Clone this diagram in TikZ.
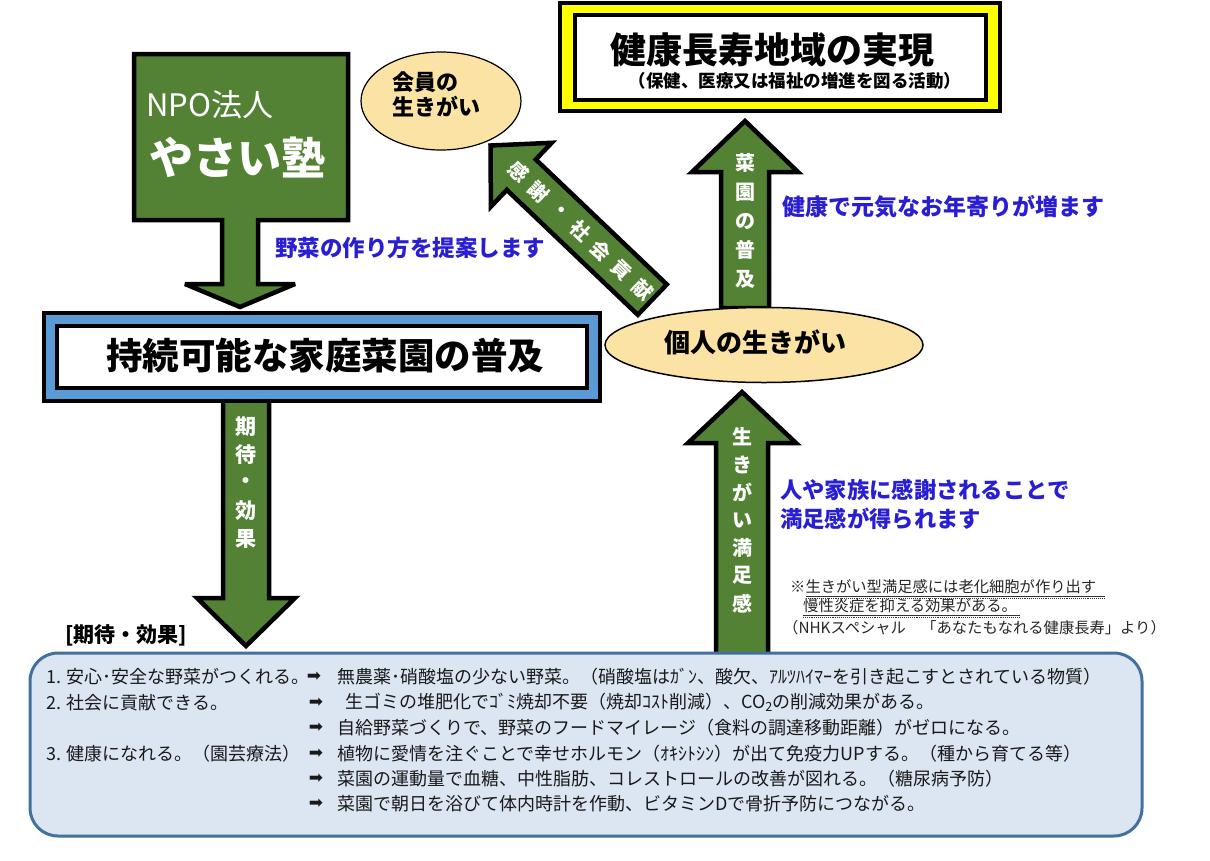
\documentclass[tikz,border=0pt]{standalone}
\usepackage{fontspec}
\setmainfont{Noto Sans CJK JP}
\newfontfamily\dejavu{DejaVu Sans}
\usetikzlibrary{shapes.geometric}
\definecolor{grn}{HTML}{548235}
\definecolor{ylw}{HTML}{FFFF00}
\definecolor{bband}{HTML}{5B9BD5}
\definecolor{ell}{HTML}{FAE3A4}
\definecolor{boxfill}{HTML}{DCE6F2}
\definecolor{boxline}{HTML}{41719C}
\definecolor{btxt}{HTML}{2A1ED2}
\newcommand\fsz[1]{\fontsize{#1}{#1}\selectfont}
\begin{document}
\begin{tikzpicture}[x=1pt,y=-1pt,
  garrow/.style={fill=grn,draw=black,line width=4.5pt,line join=miter,miter limit=4},
  intext/.style={text=white,font=\fsz{20}\bfseries,inner sep=0pt},
  bluetext/.style={text=btxt,font=\fsz{22.5}\bfseries,anchor=west,inner sep=0pt},
  notetext/.style={text=black!85,font=\fsz{15.3},anchor=west,inner sep=0pt},
  listtext/.style={text=black!90,font=\fsz{18},anchor=west,inner sep=0pt},
  listarrow/.style={text=black!90,font=\dejavu\fsz{17},inner sep=0pt},
  bigell/.style={ellipse,fill=ell,draw=black,inner sep=0pt},
]
\useasboundingbox (0,0) rectangle (1210,860);
\fill[white] (0,0) rectangle (1210,860);

% ---- block arrows
\draw[garrow] (745,121) -- (798,172) -- (769,172) -- (769,308) -- (721,308) -- (721,172) -- (692,172) -- cycle;
\draw[garrow] (742,392) -- (796,443) -- (768,443) -- (768,660) -- (716,660) -- (716,443) -- (688,443) -- cycle;
\draw[garrow] (246,646) -- (295,598) -- (269,598) -- (269,400) -- (223,400) -- (223,598) -- (197,598) -- cycle;
\draw[garrow] (490.5,145.5) -- (551.7,142.8) -- (535.8,159.5) -- (666.8,284.4) -- (637.8,314.8) -- (506.8,189.9) -- (490.9,206.6) -- cycle;

% ---- NPO callout
\draw[garrow] (134,54) -- (348,54) -- (348,220) -- (258,220) -- (258,284) -- (295,284) -- (240,307) -- (185,284) -- (222,284) -- (222,220) -- (134,220) -- cycle;
\node[text=white,font=\fsz{31},anchor=west,inner sep=0pt] (npo) at (146,105) {NPO法人};
\node[text=white,font=\fsz{44}\bfseries,inner sep=0pt] (yasai) at (237,157) {やさい塾};

% ---- goal box
\node[draw=black,fill=ylw,line width=4pt,minimum width=440pt,minimum height=108pt,inner sep=0pt] (goalouter) at (780,57) {};
\node[draw=black,fill=white,line width=4pt,minimum width=411pt,minimum height=85pt,inner sep=0pt] (goalinner) at (780.5,57.5) {};
\node[font=\fsz{36}\bfseries,inner sep=0pt] (goal) at (772,50) {健康長寿地域の実現};
\node[font=\fsz{17.5}\bfseries,inner sep=0pt] (goalsub) at (795,81) {（保健、医療又は福祉の増進を図る活動）};

% ---- main box
\node[draw=black,fill=bband,line width=4pt,minimum width=556pt,minimum height=88pt,inner sep=0pt] (mainouter) at (322,357) {};
\node[draw=black,fill=white,line width=4pt,minimum width=530pt,minimum height=62pt,inner sep=0pt] (maininner) at (322,357) {};
\node[font=\fsz{36.5}\bfseries,inner sep=0pt] (main) at (325,356) {持続可能な家庭菜園の普及};

% ---- ellipses
\node[bigell,line width=1.2pt,minimum width=160pt,minimum height=98pt] (kaiin) at (441,101) {};
\node[font=\fontsize{22}{25}\selectfont\bfseries,align=left,anchor=west,inner sep=0pt] (kaiintxt) at (392,94) {会員の\\生きがい};
\node[bigell,line width=1.5pt,minimum width=318pt,minimum height=75pt] (kojin) at (764,345) {};
\node[font=\fsz{26}\bfseries,inner sep=0pt] (kojintxt) at (755,342) {個人の生きがい};

% ---- texts in arrows
\foreach \c [count=\i from 0] in {菜,園,の,普,及} {\node[intext] (saien\i) at (745,{163+29*\i}) {\c};}
\foreach \c [count=\i from 0] in {生,き,が,い,満,足,感} {\node[intext] (ikigai\i) at (742,{437+27.7*\i}) {\c};}
\foreach \c [count=\i from 0] in {期,待,・,効,果} {\node[intext,font=\fsz{21}\bfseries] (kitai\i) at (246,{427+28*\i}) {\c};}
\foreach \c [count=\i from 0] in {感,謝,・,社,会,貢,献} {\node[intext,font=\fsz{19.5}\bfseries,rotate=-43.6] (kansha\i) at ({488+(42+28.5*\i)*0.724},{143+(42+28.5*\i)*0.690}) {\c};}

% ---- blue texts
\node[bluetext] (t1) at (275,248) {野菜の作り方を提案します};
\node[bluetext,font=\fsz{23}\bfseries] (t2) at (782,207) {健康で元気なお年寄りが増ます};
\node[bluetext,font=\fsz{22.3}\bfseries] (t3) at (780,490) {人や家族に感謝されることで};
\node[bluetext,font=\fsz{22.3}\bfseries] (t4) at (780,519) {満足感が得られます};

% ---- note
\node[notetext] (n1) at (790,587) {※生きがい型満足感には老化細胞が作り出す};
\node[notetext] (n2) at (803,606) {慢性炎症を抑える効果がある。};
\node[notetext] (n3) at (783,628) {（NHKスペシャル　「あなたもなれる健康長寿」より）};
\draw[line width=0.6pt,black!80] (806,596) -- (1105,596);
\draw[line width=1.1pt,black!80,densely dotted] (806,598.5) -- (1105,598.5);
\draw[line width=0.6pt,black!80] (803,615) -- (1020,615);
\draw[line width=1.1pt,black!80,densely dotted] (803,617.5) -- (1020,617.5);

% ---- bottom box
\node[font=\fsz{21}\bfseries,anchor=west,inner sep=0pt] (kitailabel) at (65,635) {[期待・効果]};
\node[draw=boxline,fill=boxfill,line width=3pt,rounded corners=28pt,minimum width=1112pt,minimum height=183pt,inner sep=0pt] (effects) at (586,744.5) {};
\node[listtext] (l1a) at (46,677) {1. 安心･安全な野菜がつくれる。};
\node[listarrow] (a1) at (314,677) {➡};
\node[listtext] (l1b) at (337,677) {無農薬･硝酸塩の少ない野菜。（硝酸塩はｶﾞﾝ、酸欠、ｱﾙﾂﾊｲﾏｰを引き起こすとされている物質）};
\node[listtext] (l2a) at (46,702.5) {2. 社会に貢献できる。};
\node[listarrow] (a2) at (316,702.5) {➡};
\node[listtext] (l2b) at (345,702.5) {生ゴミの堆肥化でｺﾞﾐ焼却不要（焼却ｺｽﾄ削減）、CO\textsubscript{2}の削減効果がある。};
\node[listarrow] (a3) at (316,728) {➡};
\node[listtext] (l3b) at (337,728) {自給野菜づくりで、野菜のフードマイレージ（食料の調達移動距離）がゼロになる。};
\node[listtext] (l4a) at (46,753.5) {3. 健康になれる。（園芸療法）};
\node[listarrow] (a4) at (316,753.5) {➡};
\node[listtext] (l4b) at (337,753.5) {植物に愛情を注ぐことで幸せホルモン（ｵｷｼﾄｼﾝ）が出て免疫力UPする。（種から育てる等）};
\node[listarrow] (a5) at (316,779) {➡};
\node[listtext] (l5b) at (337,779) {菜園の運動量で血糖、中性脂肪、コレストロールの改善が図れる。（糖尿病予防）};
\node[listarrow] (a6) at (316,804) {➡};
\node[listtext] (l6b) at (337,804) {菜園で朝日を浴びて体内時計を作動、ビタミンDで骨折予防につながる。};
\end{tikzpicture}
\end{document}
